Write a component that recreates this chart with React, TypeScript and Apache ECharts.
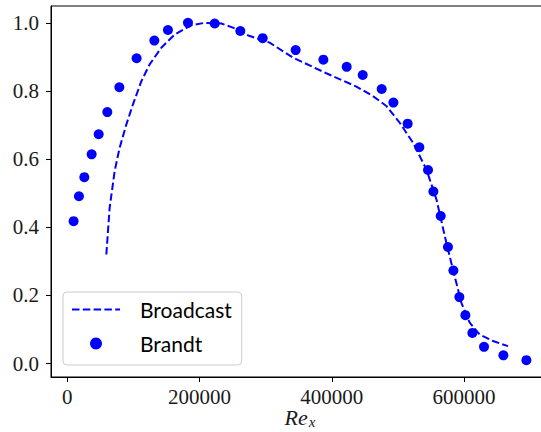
import React, { useEffect, useRef } from "react";
import * as echarts from "echarts";

// Broadcast (dashed line)
const broadcastRe = [59000, 64000, 71600, 79100, 89300, 99300, 112000, 124500, 142200, 162300, 187600, 207700, 233000, 250500, 275000, 306000, 341300, 391800, 437200, 462300, 482600, 502700, 522900, 543100, 558300, 573400, 585900, 596100, 608700, 623800, 643900, 666600];
const broadcastVal = [0.320, 0.457, 0.565, 0.633, 0.702, 0.761, 0.829, 0.878, 0.927, 0.966, 0.993, 1.0, 0.998, 0.986, 0.962, 0.942, 0.898, 0.852, 0.813, 0.785, 0.756, 0.707, 0.648, 0.570, 0.482, 0.354, 0.256, 0.178, 0.120, 0.085, 0.066, 0.051];

// Brandt (dots)
const brandtRe = [9500, 17600, 25700, 36800, 47400, 60500, 78700, 104800, 131600, 152200, 182500, 222900, 261700, 295500, 345400, 387300, 422600, 446800, 475500, 493200, 514800, 532500, 545600, 553700, 564800, 575800, 584000, 593000, 602100, 612700, 630300, 659600, 694400];
const brandtVal = [0.418, 0.491, 0.547, 0.614, 0.673, 0.738, 0.811, 0.896, 0.948, 0.979, 1.0, 0.998, 0.976, 0.955, 0.920, 0.892, 0.871, 0.847, 0.806, 0.766, 0.704, 0.635, 0.568, 0.505, 0.433, 0.342, 0.273, 0.195, 0.142, 0.090, 0.049, 0.024, 0.010];

const xTicks = [0, 200000, 400000, 600000];
const yTicks = [0, 0.2, 0.4, 0.6, 0.8, 1.0];

const SERIF = "'Liberation Serif', 'Times New Roman', serif";
const SANS = "Lato, sans-serif";

export default function App() {
  const ref = useRef<HTMLDivElement>(null);
  useEffect(() => {
    if (!ref.current) return;
    const chart = echarts.init(ref.current, null, { renderer: "svg" });
    chart.setOption({
      animation: false,
      backgroundColor: "#ffffff",
      textStyle: { fontFamily: SERIF, fontSize: 21, color: "#1a1a1a" },
      grid: {
        left: 51,
        top: 6,
        width: 498,
        height: 371,
        show: true,
        borderColor: "#000",
        borderWidth: 1,
        backgroundColor: "transparent",
        containLabel: false,
        outerBoundsMode: "none",
      },
      legend: {
        orient: "vertical",
        left: 63,
        top: 292,
        data: [
          { name: "Broadcast", itemStyle: { opacity: 0 } },
          { name: "Brandt" },
        ],
        itemWidth: 48,
        itemHeight: 12,
        itemGap: 13,
        padding: [7, 10, 11, 8],
        backgroundColor: "rgba(255,255,255,0.8)",
        borderColor: "#cccccc",
        borderWidth: 1,
        borderRadius: 4,
        textStyle: {
          fontFamily: SANS,
          fontSize: 21,
          color: "#000",
          padding: [0, 0, 0, 15],
        },
      },
      xAxis: {
        type: "value",
        min: -24700,
        max: 728600,
        splitLine: { show: false },
        axisLine: { show: true, onZero: false, lineStyle: { color: "#000", width: 1 } },
        axisTick: { show: true, length: 5, lineStyle: { color: "#000" }, customValues: xTicks },
        axisLabel: {
          customValues: xTicks,
          fontFamily: SERIF,
          fontSize: 21,
          color: "#1a1a1a",
          margin: 9,
          formatter: (v: number) => String(v),
        },
        name: "{a|Re}{b|x}",
        nameLocation: "middle",
        nameGap: 29,
        nameMoveOverlap: false,
        nameTextStyle: {
          rich: {
            a: { fontFamily: SERIF, fontStyle: "italic", fontSize: 22, color: "#1a1a1a", lineHeight: 22, verticalAlign: "top" },
            b: { fontFamily: SERIF, fontStyle: "italic", fontSize: 15, color: "#1a1a1a", lineHeight: 15, verticalAlign: "top", padding: [8, 0, 0, 1] },
          },
        },
      },
      yAxis: {
        type: "value",
        min: -0.0395,
        max: 1.0495,
        splitLine: { show: false },
        axisLine: { show: true, onZero: false, lineStyle: { color: "#000", width: 1 } },
        axisTick: { show: true, length: 5, lineStyle: { color: "#000" }, customValues: yTicks },
        axisLabel: {
          customValues: yTicks,
          fontFamily: SERIF,
          fontSize: 21,
          color: "#1a1a1a",
          margin: 12,
          formatter: (v: number) => v.toFixed(1),
        },
      },
      series: [
        {
          name: "Broadcast",
          type: "line",
          data: broadcastRe.map((x, i) => [x, broadcastVal[i]]),
          showSymbol: false,
          symbol: "none",
          lineStyle: { color: "#0000ff", width: 2, type: [7.5, 3.3] },
          itemStyle: { color: "#0000ff" },
          z: 2,
        },
        {
          name: "Brandt",
          type: "scatter",
          data: brandtRe.map((x, i) => [x, brandtVal[i]]),
          symbol: "circle",
          symbolSize: 10,
          itemStyle: { color: "#0000ff", opacity: 1 },
          z: 3,
        },
      ],
    });
    return () => chart.dispose();
  }, []);
  return (
    <div
      ref={ref}
      style={{ position: "fixed", left: 0, top: 0, width: 541, height: 432, overflow: "hidden", background: "#fff" }}
    />
  );
}
